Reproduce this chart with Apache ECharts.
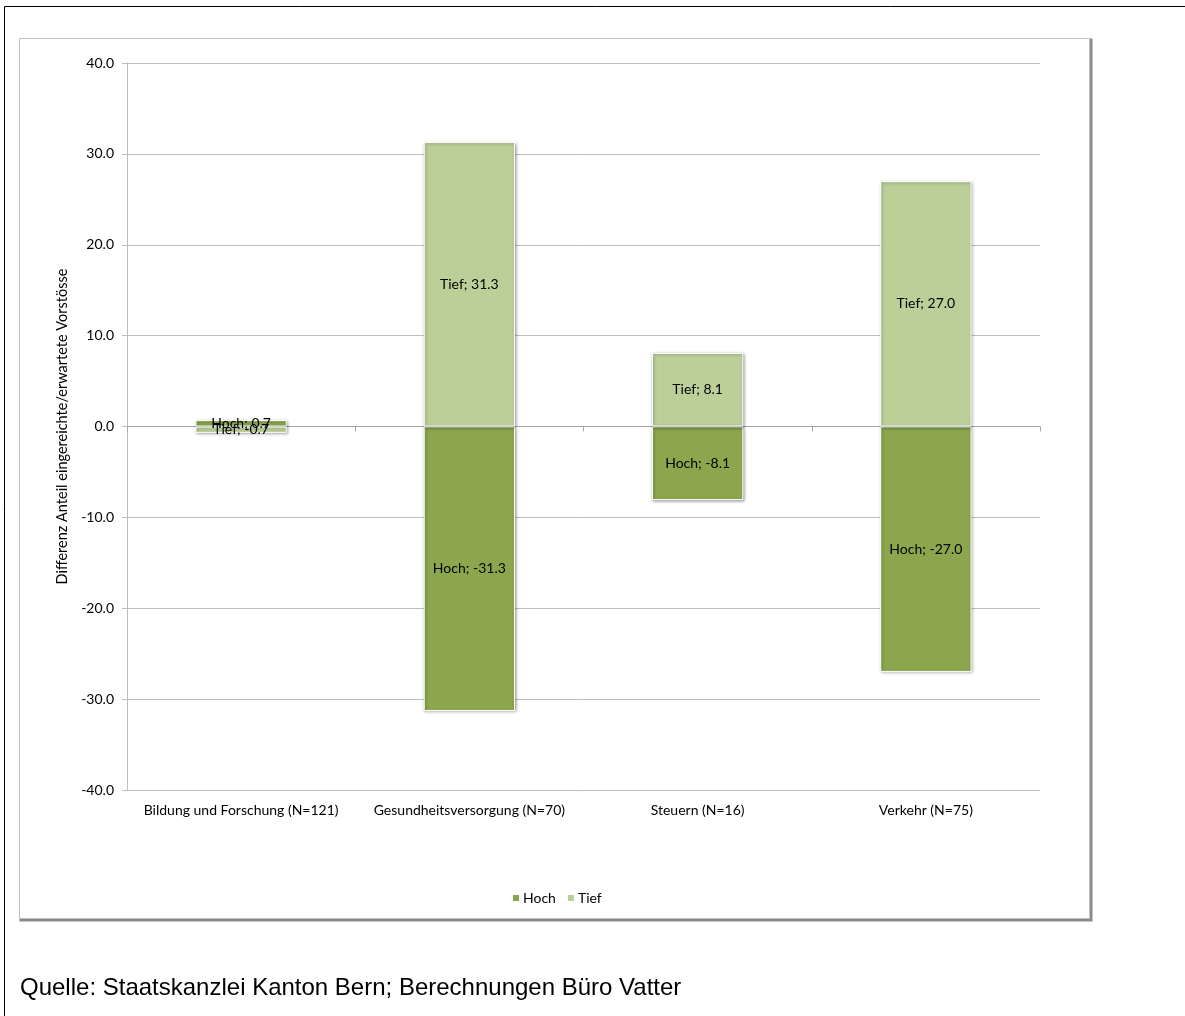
<!DOCTYPE html>
<html>
<head>
<meta charset="utf-8">
<script src="https://cdn.jsdelivr.net/npm/echarts@6/dist/echarts.min.js"></script>
<style>
html,body{margin:0;padding:0;background:#fff;}
#c{width:1185px;height:1016px;}
</style>
</head>
<body>
<div id="c"></div>
<script>
var categories = ['Bildung und Forschung (N=121)', 'Gesundheitsversorgung (N=70)', 'Steuern (N=16)', 'Verkehr (N=75)'];
var hoch = [0.7, -31.3, -8.1, -27.0];
var tief = [-0.7, 31.3, 8.1, 27.0];
var yTicks = [-40, -30, -20, -10, 0, 10, 20, 30, 40];
var yTitle = 'Differenz Anteil eingereichte/erwartete Vorstösse';
var source = 'Quelle: Staatskanzlei Kanton Bern; Berechnungen Büro Vatter';

var FONT = 'Lato, "Open Sans", sans-serif';
var chart = echarts.init(document.getElementById('c'), null, {renderer: 'canvas'});

function lbl(name) {
  return {
    show: true, position: 'inside', color: '#000', fontFamily: FONT, fontSize: 14,
    formatter: function (p) { return name + '; ' + Number(p.value).toFixed(1); }
  };
}
var barStyle = function (col) {
  return {color: col, borderColor: '#fff', borderWidth: 1,
    shadowBlur: 3, shadowColor: 'rgba(0,0,0,0.35)', shadowOffsetX: 1, shadowOffsetY: 1};
};

chart.setOption({
  backgroundColor: '#fff',
  animation: false,
  graphic: [
    {type: 'rect', shape: {x: 4.5, y: 6.5, width: 1300, height: 1100}, style: {fill: 'none', stroke: '#000', lineWidth: 1}, z: 0},
    {type: 'rect', shape: {x: 21, y: 40, width: 1070, height: 880}, style: {fill: 'none', stroke: '#8a8a8a', lineWidth: 3}, z: 0},
    {type: 'rect', shape: {x: 19.5, y: 38.5, width: 1070, height: 880}, style: {fill: '#fff', stroke: '#c0c0c0', lineWidth: 1}, z: 0},
    {type: 'text', left: 20, top: 976, style: {text: source, font: '24px "Liberation Sans", Arial, sans-serif', fill: '#000'}, z: 10}
  ],
  legend: {
    data: ['Hoch', 'Tief'],
    left: 506, top: 886,
    itemWidth: 8, itemHeight: 8, itemGap: 10,
    icon: 'rect',
    textStyle: {fontFamily: FONT, fontSize: 14, color: '#000', padding: [0, 0, 0, -2]}
  },
  grid: {left: 127, right: 145, top: 63, bottom: 226, containLabel: false},
  xAxis: [
    {
      type: 'category', data: categories, position: 'bottom',
      axisLine: {show: false, onZero: false}, axisTick: {show: false},
      axisLabel: {color: '#000', fontFamily: FONT, fontSize: 14, margin: 13, interval: 0}
    },
    {
      type: 'category', data: categories, position: 'bottom',
      axisLine: {show: true, onZero: true, onZeroAxisIndex: 0, lineStyle: {color: '#a6a6a6'}},
      axisTick: {show: true, length: 5, lineStyle: {color: '#a6a6a6'}},
      axisLabel: {show: false}
    }
  ],
  yAxis: {
    type: 'value', min: -40, max: 40, interval: 10,
    name: yTitle, nameLocation: 'middle', nameGap: 48,
    nameTextStyle: {fontFamily: FONT, fontSize: 14.5, color: '#000'},
    axisLine: {show: true, lineStyle: {color: '#bdbdbd'}},
    axisTick: {show: true, length: 5, lineStyle: {color: '#bdbdbd'}},
    splitLine: {show: true, lineStyle: {color: '#bdbdbd'}},
    axisLabel: {color: '#000', fontFamily: FONT, fontSize: 14, margin: 13,
      formatter: function (v) { return yTicks.indexOf(v) >= 0 ? v.toFixed(1) : ''; }}
  },
  series: [
    {name: 'Hoch', type: 'bar', stack: 'a', data: hoch, barWidth: '40%', itemStyle: barStyle('#8ba64c'), label: lbl('Hoch')},
    {name: 'Tief', type: 'bar', stack: 'a', data: tief, barWidth: '40%', itemStyle: barStyle('#bbcf98'), label: lbl('Tief')}
  ]
});
</script>
</body>
</html>
